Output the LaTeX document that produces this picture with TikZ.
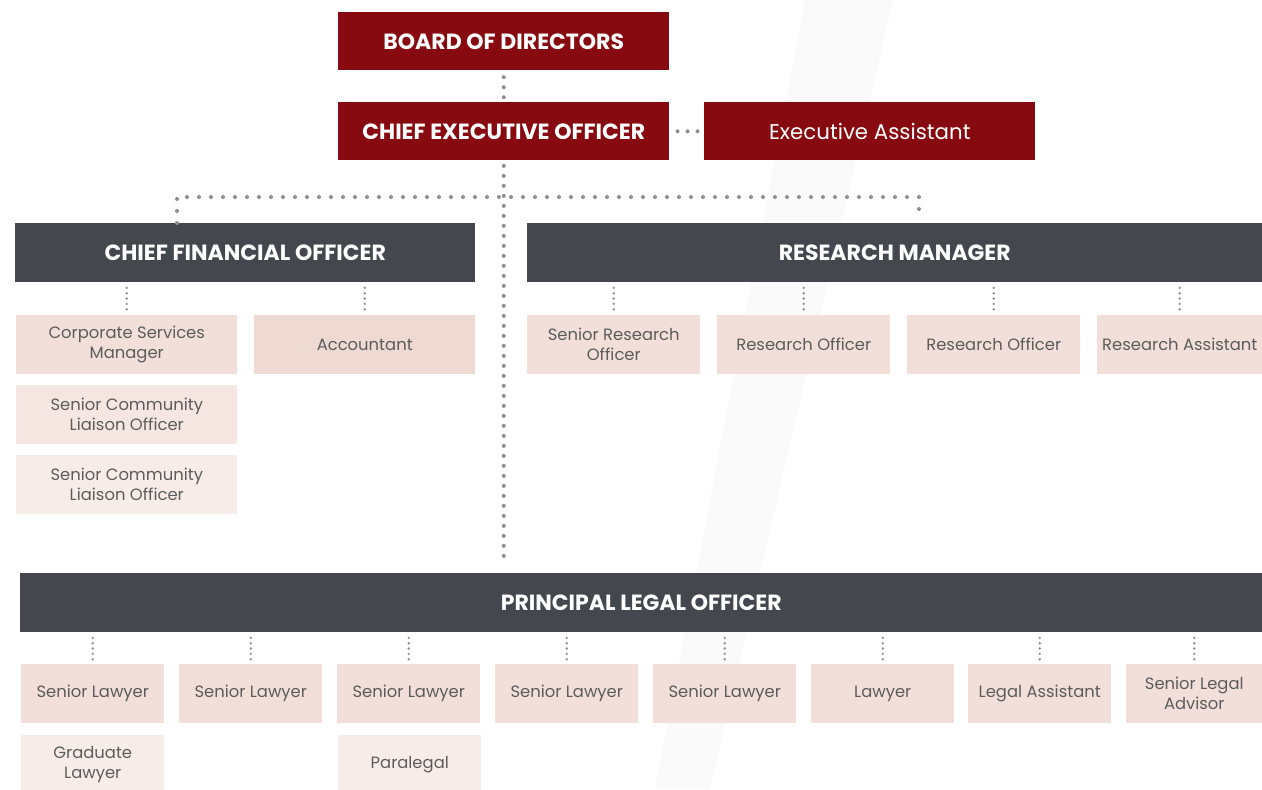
\documentclass[tikz,border=0pt]{standalone}
\usepackage{fontspec}
\setmainfont{Poppins}
\usepackage{tikz}
\definecolor{boardred}{HTML}{870A10}
\definecolor{headgrey}{HTML}{45474F}
\definecolor{rolepink}{HTML}{F2DFD9}
\definecolor{rolepinkdark}{HTML}{EEDAD3}
\definecolor{rolepinklight}{HTML}{F5E6E1}
\definecolor{rolepinkpale}{HTML}{F8ECE8}
\definecolor{roletext}{HTML}{5C5C5C}
\definecolor{dotgrey}{HTML}{8E8E8E}
\definecolor{stripe}{HTML}{FAFAFA}

\begin{document}
\begin{tikzpicture}[x=0.75pt,y=-0.75pt,
    box/.style={anchor=north west,inner sep=0pt,align=center},
    wd/.style={minimum width=#1*0.75pt},
    ht/.style={minimum height=#1*0.75pt},
    topbox/.style={box,fill=boardred,text=white,wd=331,ht=58},
    headbox/.style={box,fill=headgrey,text=white,ht=59,
      font=\bfseries\fontsize{16.5}{18}\selectfont},
    rolebox/.style={box,fill=rolepink,text=roletext,ht=59,
      font=\fontsize{12.3}{15}\selectfont},
    bigdots/.style={draw=dotgrey,line width=3pt,line cap=round,
      dash pattern=on 0pt off 7.5pt},
    smalldots/.style={draw=dotgrey,line width=2pt,line cap=round,
      dash pattern=on 0pt off 4pt,shorten <=4pt,shorten >=2pt}]
  \useasboundingbox (0,0) rectangle (1262,789);
  % faint stripe behind the chart
  \fill[stripe] (805,0) -- (893,0) -- (710,789) -- (655,789) -- cycle;

  % top of the chart
  \node[topbox,font=\bfseries\fontsize{16.5}{18}\selectfont] (Board) at (338,12) {BOARD OF DIRECTORS};
  \node[topbox,font=\bfseries\fontsize{16.5}{18}\selectfont] (CEO) at (338,102) {CHIEF EXECUTIVE OFFICER};
  \node[topbox,font=\fontsize{16}{18}\selectfont] (EA) at (704,102) {Executive Assistant};

  % managers
  \node[headbox,wd=460] (CFO) at (15,223) {CHIEF FINANCIAL OFFICER};
  \node[headbox,wd=735] (RM) at (527,223) {RESEARCH MANAGER};
  \node[headbox,wd=1242] (PLO) at (20,573) {PRINCIPAL LEGAL OFFICER};

  % finance
  \node[rolebox,wd=221] (CSM) at (16,315) {Corporate Services\\Manager};
  \node[rolebox,wd=221,fill=rolepinkdark] (Acc) at (254,315) {Accountant};
  \node[rolebox,wd=221,fill=rolepinklight] (SCLO-1) at (16,385) {Senior Community\\Liaison Officer};
  \node[rolebox,wd=221,fill=rolepinkpale] (SCLO-2) at (16,455) {Senior Community\\Liaison Officer};

  % research
  \node[rolebox,wd=173] (SRO) at (527,315) {Senior Research\\Officer};
  \node[rolebox,wd=173] (RO-1) at (717,315) {Research Officer};
  \node[rolebox,wd=173] (RO-2) at (907,315) {Research Officer};
  \node[rolebox,wd=165] (RA) at (1097,315) {Research Assistant};

  % legal
  \node[rolebox,wd=143] (SL-1) at (21,664) {Senior Lawyer};
  \node[rolebox,wd=143] (SL-2) at (179,664) {Senior Lawyer};
  \node[rolebox,wd=143] (SL-3) at (337,664) {Senior Lawyer};
  \node[rolebox,wd=143] (SL-4) at (495,664) {Senior Lawyer};
  \node[rolebox,wd=143] (SL-5) at (653,664) {Senior Lawyer};
  \node[rolebox,wd=143] (Law) at (811,664) {Lawyer};
  \node[rolebox,wd=143] (LA) at (968,664) {Legal Assistant};
  \node[rolebox,wd=136] (SLA) at (1126,664) {Senior Legal\\Advisor};
  \node[rolebox,wd=143,fill=rolepinkpale] (Grad) at (21,735) {Graduate\\Lawyer};
  \node[rolebox,wd=143,fill=rolepinkpale] (Para) at (338,735) {Paralegal};

  % connectors
  \coordinate (CFOtop) at (177,223);
  \coordinate (RMtop) at (919,223);
  \coordinate (Bar) at (500,197);
  \draw[bigdots,shorten <=5pt,shorten >=3pt] (Board) -- (CEO);
  \draw[bigdots,shorten <=6pt,shorten >=3pt] (CEO) -- (EA);
  \draw[bigdots,shorten <=4pt,shorten >=10pt] (CEO) -- (CEO |- PLO.north);
  \draw[bigdots,dash pattern=on 0pt off 9pt,shorten >=3pt] (CFOtop) |- (Bar) -| (RMtop);
  \foreach \kid in {CSM,Acc,SRO,RO-1,RO-2,RA}
    \draw[smalldots] (\kid.north |- CFO.south) -- (\kid.north);
  \foreach \kid in {SL-1,SL-2,SL-3,SL-4,SL-5,Law,LA,SLA}
    \draw[smalldots] (\kid.north |- PLO.south) -- (\kid.north);
\end{tikzpicture}
\end{document}
